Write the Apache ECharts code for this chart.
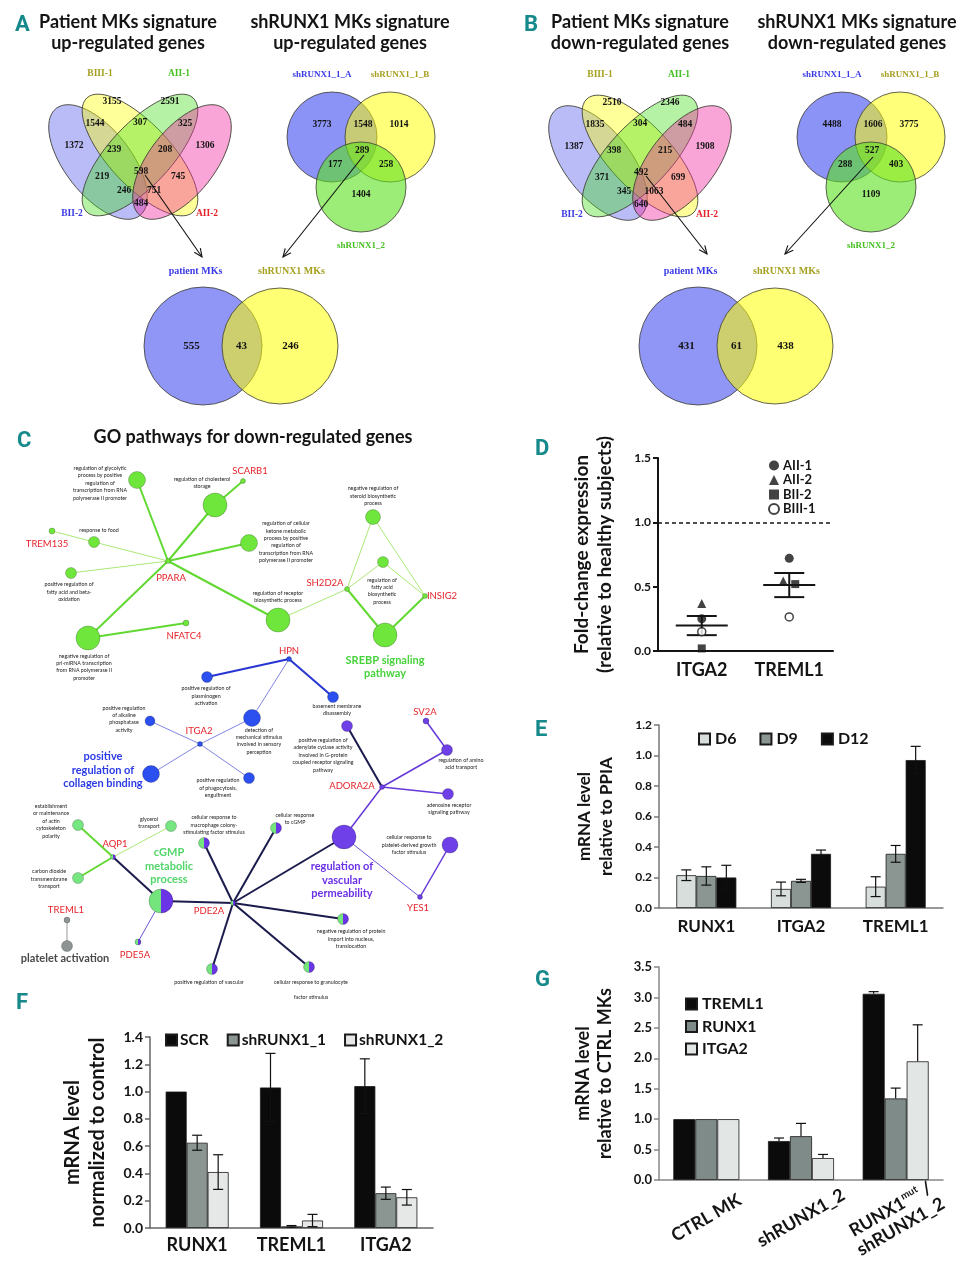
<!DOCTYPE html>
<html>
<head>
<meta charset="utf-8">
<script src="https://cdn.jsdelivr.net/npm/echarts@6/dist/echarts.min.js"></script>
<style>
html,body{margin:0;padding:0;background:#ffffff;}
#chart{width:958px;height:1280px;}
</style>
</head>
<body>
<div id="chart"></div>
<script>
// ================= DATA =================
// Panel A / B : Venn counts
const patientSets = ['BIII-1', 'AII-1', 'BII-2', 'AII-2'];
const upPatientCounts = [3155, 2591, 1544, 307, 325, 1372, 239, 208, 1306, 219, 598, 745, 246, 751, 484];
const downPatientCounts = [2510, 2346, 1835, 304, 484, 1387, 398, 215, 1908, 371, 492, 699, 345, 1063, 640];
const shSets = ['shRUNX1_1_A', 'shRUNX1_1_B', 'shRUNX1_2'];
const upShCounts = [3773, 1548, 1014, 289, 177, 258, 1404];
const downShCounts = [4488, 1606, 3775, 527, 288, 403, 1109];
const overlapSets = ['patient MKs', 'shRUNX1 MKs'];
const upOverlapCounts = [555, 43, 246];
const downOverlapCounts = [431, 61, 438];

// Panel D : fold change per patient
const dGenes = ['ITGA2', 'TREML1'];
const dPatients = ['AII-1', 'AII-2', 'BII-2', 'BIII-1'];
const dAII1 = [0.25, 0.72];
const dAII2 = [0.37, 0.545];
const dBII2 = [0.02, 0.52];
const dBIII1 = [0.15, 0.265];

// Panel E : mRNA relative to PPIA
const eGenes = ['RUNX1', 'ITGA2', 'TREML1'];
const eD6 = [0.215, 0.125, 0.14];
const eD6Err = [0.035, 0.045, 0.065];
const eD9 = [0.21, 0.178, 0.355];
const eD9Err = [0.06, 0.01, 0.055];
const eD12 = [0.20, 0.355, 0.97];
const eD12Err = [0.08, 0.025, 0.09];

// Panel F : mRNA normalized to control
const fGenes = ['RUNX1', 'TREML1', 'ITGA2'];
const fSCR = [1.0, 1.03, 1.04];
const fSCRErr = [0, 0.25, 0.2];
const fSh1 = [0.625, 0.012, 0.255];
const fSh1Err = [0.055, 0.006, 0.045];
const fSh2 = [0.41, 0.055, 0.225];
const fSh2Err = [0.127, 0.045, 0.057];

// Panel G : mRNA relative to CTRL MKs
const gGroups = ['CTRL MK', 'shRUNX1_2', 'RUNX1mut /\nshRUNX1_2'];
const gTREML1 = [1, 0.64, 3.06];
const gTREML1Err = [0, 0.05, 0.035];
const gRUNX1 = [1, 0.72, 1.34];
const gRUNX1Err = [0, 0.21, 0.17];
const gITGA2 = [1, 0.36, 1.95];
const gITGA2Err = [0, 0.06, 0.6];

// Panel C : GO network (node: label, layout x, layout y, size, cluster)
const netNodes = [
  ['PPARA',168,561,5,'g'], ['glycolytic',137,480,17,'g'], ['cholesterol',215,505,24,'g'], ['SCARB1',243,481,5,'g'],
  ['ketone',249,543,17,'g'], ['food',94,542,11,'g'], ['TREM135',52,531,6,'g'], ['fattyBeta',71,573,11,'g'],
  ['priMiRNA',88,638,24,'g'], ['NFATC4',186,623,6,'g'], ['receptor',278,620,24,'g'], ['SH2D2A',347,589,5,'g'],
  ['steroid',373,517,15,'g'], ['fattyBiosyn',383,562,11,'g'], ['INSIG2',425,596,5,'g'], ['SREBP',385,635,24,'g'],
  ['HPN',289,659,5,'b'], ['plasminogen',207,677,11,'b'], ['basement',333,697,11,'b'], ['alkaline',150,721,10,'b'],
  ['ITGA2',200,744,5,'b'], ['detection',252,718,17,'b'], ['collagen',151,774,17,'b'], ['phagocytosis',249,778,11,'b'],
  ['SV2A',426,721,6,'p'], ['amino',447,750,11,'p'], ['adenylate',347,726,11,'p'], ['ADORA2A',382,787,5,'p'],
  ['adenosine',448,794,11,'p'], ['vascPerm',344,837,24,'p'], ['plateletGrowth',450,845,16,'p'], ['YES1',420,897,5,'p'],
  ['AQP1',113,857,5,'h'], ['actin',78,825,11,'m'], ['glycerol',171,826,11,'m'], ['CO2',78,878,11,'m'],
  ['cGMP',161,901,24,'h'], ['PDE2A',233,903,5,'h'], ['PDE5A',138,942,6,'h'], ['macrophage',204,843,11,'h'],
  ['cGMPresp',276,828,11,'h'], ['nuclear',343,919,11,'h'], ['posRegVasc',212,969,11,'h'], ['granulocyte',309,967,11,'h'],
  ['TREML1',67,920,6,'k'], ['plateletAct',67,946,11,'k']
];
const netLinks = [
  [0,1,'G'],[0,2,'G'],[0,4,'G'],[0,8,'G'],[0,10,'G'],[2,3,'G'],[8,9,'G'],[11,15,'G'],[14,15,'G'],
  [0,5,'g'],[0,7,'g'],[5,6,'g'],[10,11,'g'],[11,12,'g'],[11,13,'g'],[14,12,'g'],[14,13,'g'],
  [16,17,'B'],[16,18,'B'],[16,21,'b'],[20,19,'b'],[20,21,'b'],[20,22,'b'],[20,23,'b'],
  [24,25,'P'],[27,25,'P'],[27,28,'P'],[27,26,'N'],[27,29,'P'],[29,31,'p'],[31,30,'P'],
  [32,33,'G'],[32,34,'g'],[32,35,'G'],[32,36,'N'],[36,38,'p'],[36,37,'N'],[37,39,'N'],[37,40,'N'],
  [37,29,'N'],[37,41,'N'],[37,42,'N'],[37,43,'N'],[44,45,'K']
];
const netGeneLabels = [
  ['SCARB1',250,471],['TREM135',47,544],['PPARA',171,578],['NFATC4',184,636],['SH2D2A',325,583],['INSIG2',442,596],
  ['HPN',289,651],['ITGA2',199,731],['SV2A',425,712],['ADORA2A',352,786],['AQP1',115,844],['PDE2A',209,911],
  ['YES1',418,908],['TREML1',66,910],['PDE5A',135,955]
];
const netTermLabels = [
  ['regulation of glycolytic\nprocess by positive\nregulation of\ntranscription from RNA\npolymerase II promoter',100,483],
  ['regulation of cholesterol\nstorage',202,483],
  ['negative regulation of\nsteroid biosynthetic\nprocess',373,496],
  ['response to food',99,530],
  ['regulation of cellular\nketone metabolic\nprocess by positive\nregulation of\ntranscription from RNA\npolymerase II promoter',286,542],
  ['positive regulation of\nfatty acid and beta-\noxidation',69,592],
  ['regulation of\nfatty acid\nbiosynthetic\nprocess',382,591],
  ['regulation of receptor\nbiosynthetic process',278,597],
  ['negative regulation of\npri-miRNA transcription\nfrom RNA polymerase II\npromoter',84,667],
  ['positive regulation of\nplasminogen\nactivation',206,696],
  ['basement membrane\ndisassembly',337,710],
  ['positive regulation\nof alkaline\nphosphatase\nactivity',124,719],
  ['detection of\nmechanical stimulus\ninvolved in sensory\nperception',259,741],
  ['positive regulation\nof phagocytosis,\nengulfment',218,788],
  ['positive regulation of\nadenylate cyclase activity\ninvolved in G-protein\ncoupled receptor signaling\npathway',323,755],
  ['regulation of amino\nacid transport',461,764],
  ['adenosine receptor\nsignaling pathway',449,809],
  ['establishment\nor maintenance\nof actin\ncytoskeleton\npolarity',51,821],
  ['glycerol\ntransport',149,823],
  ['cellular response to\nmacrophage colony-\nstimulating factor stimulus',214,825],
  ['cellular response\nto cGMP',295,819],
  ['cellular response to\nplatelet-derived growth\nfactor stimulus',409,845],
  ['carbon dioxide\ntransmembrane\ntransport',49,879],
  ['negative regulation of protein\nimport into nucleus,\ntranslocation',351,939],
  ['positive regulation of vascular',209,982],
  ['cellular response to granulocyte',311,982],
  ['factor stimulus',311,997]
];
const netGroupLabels = [
  ['SREBP signaling\npathway',385,667,'#45d23a'],
  ['positive\nregulation of\ncollagen binding',103,770,'#2b3be6'],
  ['cGMP\nmetabolic\nprocess',169,866,'#52d66a'],
  ['regulation of\nvascular\npermeability',342,880,'#6a2fe6'],
  ['platelet activation',65,958,'#4a4a4a']
];

// ================= STYLE HELPERS =================
const SANS = 'Lato, "Open Sans", sans-serif';
const SERIF = '"Liberation Serif", "DejaVu Serif", serif';
const NARROW = '"Liberation Sans Narrow", "Roboto", sans-serif';
const TEAL = '#16898a';
const INK = '#141414';

function txt(x, y, text, font, fill, extra) {
  return {
    type: 'text', x: x, y: y, silent: true, z: 10,
    style: Object.assign({
      text: text, font: font, fill: fill,
      align: 'center', verticalAlign: 'middle', textAlign: 'center', textVerticalAlign: 'middle'
    }, extra || {})
  };
}
const deg = d => d * Math.PI / 180;

const graphics = [];
// panel letters
[['A',15,25],['B',524,25],['C',17,441],['D',535,449],['E',535,730],['F',16,1003],['G',535,980]].forEach(l => {
  graphics.push(txt(l[1], l[2], l[0], 'bold 22px ' + NARROW, TEAL, {align:'left', textAlign:'left'}));
});
// titles
[['Patient MKs signature\nup-regulated genes',128],['shRUNX1 MKs signature\nup-regulated genes',350],
 ['Patient MKs signature\ndown-regulated genes',640],['shRUNX1 MKs signature\ndown-regulated genes',857]].forEach(t => {
  graphics.push(txt(t[1], 33, t[0], 'bold 18px ' + SANS, INK, {lineHeight: 21}));
});
graphics.push(txt(253, 437, 'GO pathways for down-regulated genes', 'bold 18px ' + SANS, INK));

// ---- 4-set Venn ----
const ELL4 = [ // dx, dy, rx, ry, clockwise angle, fill
  [-42, 7, 68, 33, 52, 'rgba(70,80,235,0.38)'],
  [0, 0, 78, 31, 47, 'rgba(255,255,0,0.40)'],
  [0, 0, 78, 31, -47, 'rgba(60,220,20,0.38)'],
  [42, 7, 68, 33, -52, 'rgba(240,40,160,0.42)']
];
const REG4 = [[-28,-53],[30,-53],[-45,-31],[0,-32],[45,-31],[-66,-9],[-26,-5],[25,-5],[65,-9],[-38,22],[1,17],[38,22],[-16,36],[14,36],[1,49]];
const LAB4 = [[-40,-81,'#a5a020'],[39,-81,'#45c022'],[-68,59,'#3a3ae6'],[67,59,'#e5222a']];
function venn4(cx, cy, counts) {
  ELL4.forEach(e => {
    graphics.push({type:'ellipse', x: cx + e[0], y: cy + e[1], rotation: deg(-e[4]), silent: true, z: 1,
      shape: {cx: 0, cy: 0, rx: e[2], ry: e[3]},
      style: {fill: e[5], stroke: '#3c3c30', lineWidth: 0.8}});
  });
  counts.forEach((c, i) => graphics.push(txt(cx + REG4[i][0], cy + REG4[i][1], String(c), 'bold 9.5px ' + SERIF, '#111')));
  patientSets.forEach((s, i) => graphics.push(txt(cx + LAB4[i][0], cy + LAB4[i][1], s, 'bold 9.5px ' + SERIF, LAB4[i][2])));
}
// ---- 3-set Venn ----
const CIR3 = [[-29,-13,45,'rgba(70,80,240,0.62)'],[29,-13,45,'rgba(255,255,0,0.52)'],[0,37,45,'rgba(90,225,30,0.6)']];
const REG3 = [[-39,-25],[2,-25],[38,-25],[1,1],[-26,15],[25,15],[0,45]];
const LAB3 = [[-39,-75,'#3a3ae6'],[39,-75,'#a5a020'],[0,96,'#45c022']];
function venn3(cx, cy, counts) {
  CIR3.forEach(c => graphics.push({type:'circle', silent:true, z:1, shape:{cx: cx + c[0], cy: cy + c[1], r: c[2]},
    style:{fill: c[3], stroke:'#3c3c30', lineWidth:0.8}}));
  counts.forEach((c, i) => graphics.push(txt(cx + REG3[i][0], cy + REG3[i][1], String(c), 'bold 9.5px ' + SERIF, '#111')));
  shSets.forEach((s, i) => graphics.push(txt(cx + LAB3[i][0], cy + LAB3[i][1], s, 'bold 9px ' + SERIF, LAB3[i][2])));
}
// ---- 2-set Venn ----
const CIR2 = [[-38.5,59,'rgba(70,80,240,0.6)'],[38.5,58,'rgba(255,255,0,0.55)']];
const REG2 = [[-50,0],[0,0],[49,0]];
const LAB2 = [[-46,-75,'#3a3ae6'],[50,-75,'#a5a020']];
function venn2(cx, cy, counts) {
  CIR2.forEach(c => graphics.push({type:'circle', silent:true, z:1, shape:{cx: cx + c[0], cy: cy, r: c[1]},
    style:{fill: c[2], stroke:'#3c3c30', lineWidth:0.8}}));
  counts.forEach((c, i) => graphics.push(txt(cx + REG2[i][0], cy + REG2[i][1], String(c), 'bold 11px ' + SERIF, '#111')));
  overlapSets.forEach((s, i) => graphics.push(txt(cx + LAB2[i][0], cy + LAB2[i][1], s, 'bold 10px ' + SERIF, LAB2[i][2])));
}
function arrow(x1, y1, x2, y2) {
  const a = Math.atan2(y2 - y1, x2 - x1), L = 9, w = deg(24);
  graphics.push({type:'line', silent:true, z:11, shape:{x1, y1, x2, y2}, style:{stroke:'#111', lineWidth:1.1}});
  graphics.push({type:'polyline', silent:true, z:11, shape:{points:[
    [x2 - L * Math.cos(a - w), y2 - L * Math.sin(a - w)], [x2, y2], [x2 - L * Math.cos(a + w), y2 - L * Math.sin(a + w)]]},
    style:{stroke:'#111', lineWidth:1.1, fill:null}});
}
venn4(140, 155, upPatientCounts);
venn4(640, 156, downPatientCounts);
venn3(361, 150, upShCounts);
venn3(871, 150, downShCounts);
venn2(241.5, 346, upOverlapCounts);
venn2(736.5, 346, downOverlapCounts);
arrow(145, 175, 202, 257);
arrow(364, 155, 283, 257);
arrow(646, 176, 707, 254);
arrow(873, 157, 785, 254);

// ---- network labels ----
netGeneLabels.forEach(l => graphics.push(txt(l[1], l[2], l[0], '9.5px ' + SANS, '#e5232a')));
netTermLabels.forEach(l => graphics.push(txt(l[1], l[2], l[0], '5.3px ' + SANS, '#222', {lineHeight: 7.4})));
netGroupLabels.forEach(l => graphics.push(txt(l[1], l[2], l[0], 'bold 11px ' + SANS, l[3], {lineHeight: 13.5})));

// ================= NETWORK SERIES =================
const NODE_COL = {
  g: '#6fe63c', m: '#76e680', b: '#2c4ff0', p: '#6f3fe8', k: '#8e9494',
  h: {type:'linear', x:0, y:0, x2:1, y2:0, colorStops:[
    {offset:0, color:'#74e47c'}, {offset:0.5, color:'#74e47c'}, {offset:0.5, color:'#6a35e6'}, {offset:1, color:'#6a35e6'}]}
};
const LINK_STYLE = {
  G:{color:'#62d832', width:2}, g:{color:'#abe878', width:1}, B:{color:'#2636d2', width:2}, b:{color:'#8086e2', width:1},
  P:{color:'#6638d8', width:1.5}, p:{color:'#6a54d8', width:1}, N:{color:'#1b1b4d', width:2}, K:{color:'#bcbcbc', width:1.5}
};
const graphSeries = {
  type: 'graph', coordinateSystem: 'cartesian2d', xAxisIndex: 4, yAxisIndex: 4, silent: true, z: 3,
  data: netNodes.map(n => ({name: n[0], value: [n[1], n[2]], symbolSize: n[3],
    itemStyle: {color: NODE_COL[n[4]], borderColor: 'rgba(0,0,0,0.35)', borderWidth: 0.6, opacity: 1}})),
  links: netLinks.map(l => ({source: l[0], target: l[1],
    lineStyle: {color: LINK_STYLE[l[2]].color, width: LINK_STYLE[l[2]].width, opacity: 1, curveness: 0}})),
  label: {show: false}, edgeSymbol: ['none','none'], lineStyle: {opacity: 1}
};

// ================= BAR / ERROR HELPERS =================
const BW = {1: 20, 2: 21, 3: 22};
function bar(name, gi, data, color) {
  return {type:'bar', name, xAxisIndex: gi, yAxisIndex: gi, data, barWidth: BW[gi], barGap: '0%', silent: true,
    itemStyle: {color, borderColor: '#1a1a1a', borderWidth: 0.8}};
}
function errBars(gi, vals, errs, k, n, upOnly) {
  return {type:'custom', xAxisIndex: gi, yAxisIndex: gi, silent: true, z: 5,
    data: vals.map((v, i) => [i, v, errs[i]]),
    encode: {x: 0, y: 1},
    renderItem: function (params, api) {
      const i = api.value(0), v = api.value(1), e = api.value(2);
      if (!e) return null;
      const c = api.coord([i, v]);
      const x = c[0] + (k - (n - 1) / 2) * BW[gi];
      const top = api.coord([i, v + e])[1];
      const bot = upOnly ? c[1] : api.coord([i, Math.max(0, v - e)])[1];
      const st = {stroke: '#111', lineWidth: 1.2};
      const ch = [{type:'line', shape:{x1:x, y1:top, x2:x, y2:bot}, style: st},
                  {type:'line', shape:{x1:x-5, y1:top, x2:x+5, y2:top}, style: st}];
      if (!upOnly) ch.push({type:'line', shape:{x1:x-5, y1:bot, x2:x+5, y2:bot}, style: st});
      return {type:'group', children: ch};
    }};
}
function meanSem(vals) {
  const m = vals.reduce((a, b) => a + b, 0) / vals.length;
  const sd = Math.sqrt(vals.reduce((a, b) => a + (b - m) * (b - m), 0) / (vals.length - 1));
  return [m, sd / Math.sqrt(vals.length)];
}
const dStats = dGenes.map((g, i) => [i].concat(meanSem([dAII1[i], dAII2[i], dBII2[i], dBIII1[i]])));

const boldLbl = (size, extra) => Object.assign({fontSize: size, fontWeight: 'bold', fontFamily: SANS, color: INK}, extra || {});
const fmt1 = v => v.toFixed(1);
function catAxis(gi, data, size, margin, lineColor, extra) {
  return Object.assign({gridIndex: gi, type: 'category', data,
    axisLine: {lineStyle: {color: lineColor, width: 1.5}},
    axisTick: {length: 5, lineStyle: {color: lineColor, width: 1.5}},
    axisLabel: boldLbl(size, {margin, interval: 0})}, extra || {});
}
function valAxis(gi, max, interval, name, nameSize, nameLH, nameGap, lblSize, lineColor) {
  return {gridIndex: gi, type: 'value', min: 0, max, interval,
    name, nameLocation: 'middle', nameGap, nameTextStyle: boldLbl(nameSize, {lineHeight: nameLH}),
    axisLine: {show: true, lineStyle: {color: lineColor, width: lineColor === INK ? 2 : 1.5}},
    axisTick: {show: true, length: 5, lineStyle: {color: lineColor, width: lineColor === INK ? 2 : 1.5}},
    splitLine: {show: false}, axisLabel: boldLbl(lblSize, {formatter: fmt1, margin: 7})};
}

const option = {
  animation: false,
  backgroundColor: '#ffffff',
  grid: [
    {left: 658, top: 458, width: 175, height: 193},
    {left: 659, top: 725, width: 284, height: 183},
    {left: 150, top: 1037, width: 283, height: 191},
    {left: 659, top: 967, width: 284, height: 213},
    {left: 0, top: 0, width: 958, height: 1280}
  ],
  xAxis: [
    catAxis(0, dGenes, 18, 10, INK, {axisTick: {alignWithLabel: true, length: 6, lineStyle: {color: INK, width: 2}},
      axisLine: {lineStyle: {color: INK, width: 2}}}),
    catAxis(1, eGenes, 17, 10, '#777'),
    catAxis(2, fGenes, 18, 8, '#666'),
    catAxis(3, gGroups, 18, 36, '#888', {axisLabel: boldLbl(18, {interval: 0, rotate: 30, align: 'center', verticalAlign: 'middle', margin: 38,
      lineHeight: 20,
      formatter: v => v.indexOf('mut') >= 0 ? '{b|RUNX1}{s|mut}{b| /}\n{b|shRUNX1_2}' : v,
      rich: {b: boldLbl(18, {lineHeight: 20}), s: boldLbl(10, {verticalAlign: 'top', lineHeight: 20, padding: [0, 0, 6, 0]})}})}),
    {gridIndex: 4, type: 'value', min: 0, max: 958, show: false}
  ],
  yAxis: [
    valAxis(0, 1.5, 0.5, 'Fold-change expression\n(relative to healthy subjects)', 19, 23, 42, 12, INK),
    valAxis(1, 1.2, 0.2, 'mRNA level\nrelative to PPIA', 17, 22, 41, 12, '#777'),
    valAxis(2, 1.4, 0.2, 'mRNA level\nnormalized to control', 20, 25, 40, 14, '#666'),
    valAxis(3, 3.5, 0.5, 'mRNA level\nrelative to CTRL MKs', 18, 22, 43, 13, '#888'),
    {gridIndex: 4, type: 'value', min: 0, max: 1280, inverse: true, show: false}
  ],
  legend: [
    {data: [{name:'AII-1', icon:'circle'}, {name:'AII-2', icon:'triangle'}, {name:'BII-2', icon:'rect'}, {name:'BIII-1', icon:'circle'}],
      orient: 'vertical', left: 768, top: 459, padding: 0, itemWidth: 10, itemHeight: 10, itemGap: 1.5, selectedMode: false,
      textStyle: boldLbl(13, {lineHeight: 12, padding: [0,0,0,-1]})},
    {data: ['D6', 'D9', 'D12'], left: 698, top: 731, padding: 0, itemWidth: 11, itemHeight: 11, itemGap: 23, selectedMode: false, icon: 'rect',
      textStyle: boldLbl(16, {lineHeight: 13})},
    {data: ['SCR', 'shRUNX1_1', 'shRUNX1_2'], left: 165, top: 1032, padding: 0, itemWidth: 11, itemHeight: 11, itemGap: 18, selectedMode: false, icon: 'rect',
      textStyle: boldLbl(15.5, {lineHeight: 13, padding: [0,0,0,-2]})},
    {data: ['TREML1', 'RUNX1', 'ITGA2'], orient: 'vertical', left: 685, top: 996, padding: 0, itemWidth: 11, itemHeight: 11, itemGap: 6.5, selectedMode: false, icon: 'rect',
      textStyle: boldLbl(16, {lineHeight: 14})}
  ],
  graphic: graphics,
  series: [
    // Panel D
    {type:'scatter', name:'AII-1', xAxisIndex:0, yAxisIndex:0, symbol:'circle', symbolSize:9, silent:true, z:4,
      itemStyle:{color:INK}, data: dAII1.map((v, i) => [dGenes[i], v]),
      markLine: {silent: true, symbol: ['none','none'], label: {show: false},
        lineStyle: {color: INK, type: [4, 3], width: 1.5}, data: [{yAxis: 1.0}]}},
    {type:'scatter', name:'AII-2', xAxisIndex:0, yAxisIndex:0, symbol:'triangle', symbolSize:9, silent:true, z:4,
      itemStyle:{color:INK}, data: dAII2.map((v, i) => ({value: [dGenes[i], v], symbolOffset: i === 1 ? [-6, 0] : [0, 0]}))},
    {type:'scatter', name:'BII-2', xAxisIndex:0, yAxisIndex:0, symbol:'rect', symbolSize:8, silent:true, z:4,
      itemStyle:{color:INK}, data: dBII2.map((v, i) => ({value: [dGenes[i], v], symbolOffset: i === 1 ? [6, 0] : [0, 0]}))},
    {type:'scatter', name:'BIII-1', xAxisIndex:0, yAxisIndex:0, symbol:'circle', symbolSize:8, silent:true, z:4,
      itemStyle:{color:'#ffffff', borderColor:INK, borderWidth:1.5}, data: dBIII1.map((v, i) => [dGenes[i], v])},
    {type:'custom', xAxisIndex:0, yAxisIndex:0, silent:true, z:3, data: dStats, encode:{x:0, y:1},
      renderItem: function (params, api) {
        const i = api.value(0), m = api.value(1), s = api.value(2);
        const c = api.coord([i, m]);
        const t = api.coord([i, m + s])[1], b = api.coord([i, m - s])[1];
        const st = {stroke: INK, lineWidth: 2};
        return {type:'group', children: [
          {type:'line', shape:{x1:c[0]-26, y1:c[1], x2:c[0]+26, y2:c[1]}, style: st},
          {type:'line', shape:{x1:c[0], y1:t, x2:c[0], y2:b}, style: st},
          {type:'line', shape:{x1:c[0]-15, y1:t, x2:c[0]+15, y2:t}, style: st},
          {type:'line', shape:{x1:c[0]-15, y1:b, x2:c[0]+15, y2:b}, style: st}
        ]};
      }},
    // Panel E
    bar('D6', 1, eD6, '#d8dedb'), bar('D9', 1, eD9, '#8b9592'), bar('D12', 1, eD12, '#0b0b0b'),
    errBars(1, eD6, eD6Err, 0, 3, false), errBars(1, eD9, eD9Err, 1, 3, false), errBars(1, eD12, eD12Err, 2, 3, false),
    // Panel F
    bar('SCR', 2, fSCR, '#0b0b0b'), bar('shRUNX1_1', 2, fSh1, '#8b9592'), bar('shRUNX1_2', 2, fSh2, '#e5e8e7'),
    errBars(2, fSCR, fSCRErr, 0, 3, false), errBars(2, fSh1, fSh1Err, 1, 3, false), errBars(2, fSh2, fSh2Err, 2, 3, false),
    // Panel G
    bar('TREML1', 3, gTREML1, '#0b0b0b'), bar('RUNX1', 3, gRUNX1, '#7f8b89'), bar('ITGA2', 3, gITGA2, '#e2e6e5'),
    errBars(3, gTREML1, gTREML1Err, 0, 3, true), errBars(3, gRUNX1, gRUNX1Err, 1, 3, true), errBars(3, gITGA2, gITGA2Err, 2, 3, true),
    // Panel C network
    graphSeries
  ]
};

const chart = echarts.init(document.getElementById('chart'), null, {renderer: 'canvas', width: 958, height: 1280});
chart.setOption(option);
</script>
</body>
</html>
